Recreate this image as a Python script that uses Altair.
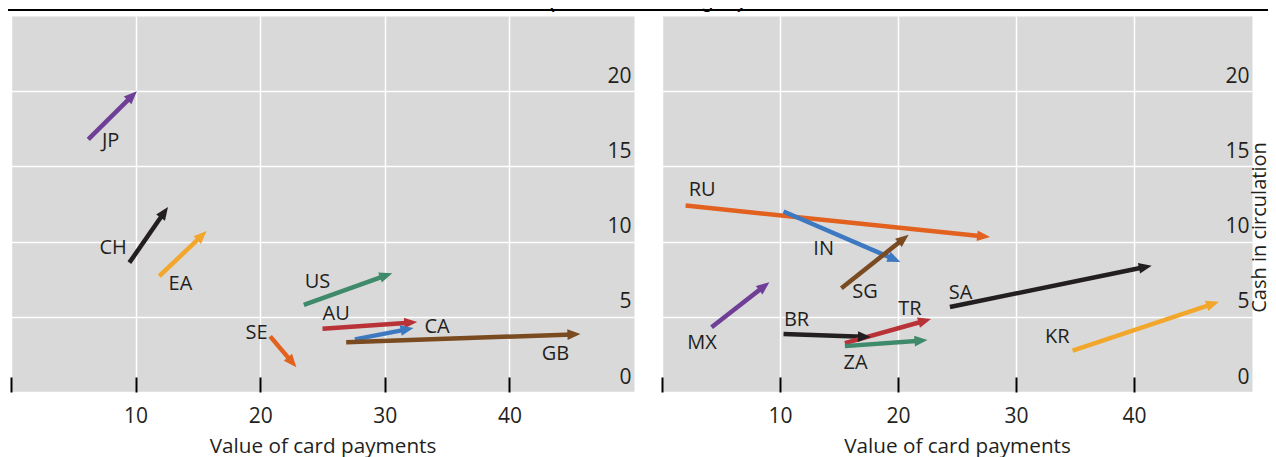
import math
import altair as alt
import pandas as pd

# ---------------- data ----------------
# Left panel: advanced economies
left_country = ["JP", "CH", "EA", "US", "AU", "CA", "GB", "SE"]
left_x_start = [6.2, 9.5, 11.9, 23.5, 25.0, 27.6, 26.9, 20.8]
left_y_start = [16.8, 8.6, 7.7, 5.8, 4.2, 3.5, 3.3, 3.7]
left_x_end = [10.1, 12.6, 15.7, 30.6, 32.6, 32.3, 45.7, 22.9]
left_y_end = [20.0, 12.3, 10.7, 7.9, 4.65, 4.25, 3.85, 1.65]
left_label_x = [8.0, 8.2, 13.6, 24.6, 26.1, 34.2, 43.7, 19.7]
left_label_y = [16.7, 9.6, 7.2, 7.3, 5.2, 4.3, 2.5, 3.9]

# Right panel: emerging market economies
right_country = ["RU", "IN", "SG", "MX", "BR", "TR", "ZA", "SA", "KR"]
right_x_start = [2.0, 10.3, 15.2, 4.2, 10.3, 15.5, 15.5, 24.4, 34.8]
right_y_start = [12.4, 12.0, 6.9, 4.3, 3.85, 3.25, 3.05, 5.65, 2.75]
right_x_end = [27.8, 20.2, 20.9, 9.1, 17.7, 22.8, 22.5, 41.5, 47.2]
right_y_end = [10.3, 8.65, 10.45, 7.3, 3.65, 4.85, 3.45, 8.4, 6.0]
right_label_x = [3.4, 13.7, 17.2, 3.4, 11.4, 21.0, 16.4, 25.3, 33.5]
right_label_y = [13.4, 9.5, 6.65, 3.25, 4.8, 5.5, 1.95, 6.6, 3.65]

PURPLE, BLACK, YELLOW, GREEN = "#6F3E96", "#231F20", "#F2A62B", "#3F8A6B"
RED, BLUE, BROWN, ORANGE = "#B93238", "#3D79C1", "#7A4A21", "#E2611F"
left_color = [PURPLE, BLACK, YELLOW, GREEN, RED, BLUE, BROWN, ORANGE]
right_color = [ORANGE, BLUE, BROWN, PURPLE, BLACK, RED, GREEN, BLACK, YELLOW]

x_ticks = [0, 10, 20, 30, 40]
y_ticks = [0, 5, 10, 15, 20]
x_title = "Value of card payments"
y_title = "Cash in circulation"
header = "(2007–10 changes)"

# ---------------- style ----------------
FONT = "Open Sans"
TXT = "#231F20"
H = 376
LEFT_W, RIGHT_W = 623, 590
XDOM, YDOM = [0, 50], [0, 25]
HEAD_BACK = 8  # px the shaft stops before the tip
ARROW = "M0,0L0.62,1.5L-0.62,1.5Z"


def build_df(country, xs, ys, xe, ye, lx, ly, colors, width):
    pxx = width / (XDOM[1] - XDOM[0])
    pxy = H / (YDOM[1] - YDOM[0])
    rows = []
    for c, a, b, e, f, g, h, col in zip(country, xs, ys, xe, ye, lx, ly, colors):
        dx = (e - a) * pxx
        dy = (f - b) * pxy
        L = math.hypot(dx, dy)
        ux, uy = dx / L, dy / L
        ang = math.degrees(math.atan2(dx, dy)) % 360
        rows.append(dict(country=c, xs=a, ys=b, xe=e, ye=f,
                         sx2=e - ux * HEAD_BACK / pxx, sy2=f - uy * HEAD_BACK / pxy,
                         lx=g, ly=h, color=col, angle=ang))
    return pd.DataFrame(rows)


def x_axis():
    return alt.Axis(values=x_ticks, labelExpr="datum.value == 0 ? '' : datum.label",
                    orient="bottom", offset=-15, tickSize=15, tickWidth=2,
                    tickColor="black", domain=False, grid=True, gridColor="white",
                    gridWidth=1.5,
                    labelPadding=30, labelBaseline="alphabetic", labelFlush=False,
                    labelFontSize=21,
                    title=x_title, titleY=75, titleBaseline="alphabetic",
                    titleFontSize=20.7)


def y_axis(with_title):
    kw = dict(values=y_ticks, orient="right", ticks=False, domain=False, grid=True,
              gridColor="white", gridWidth=1.5,
              labelAlign="right", labelPadding=-3, labelBaseline="alphabetic",
              labelOffset=-9, labelFontSize=21)
    if with_title:
        kw.update(title=y_title, titleAngle=270, titleX=7, titleY=211,
                  titleAlign="center", titleBaseline="middle", titleFontSize=20)
    else:
        kw.update(title="")
    return alt.Axis(**kw)


def panel(df, width, with_title):
    xs = alt.Scale(domain=XDOM, nice=False, zero=False)
    ys = alt.Scale(domain=YDOM, nice=False, zero=False)
    xa = x_axis()
    ya = y_axis(with_title)
    base = alt.Chart(df)
    shafts = base.mark_rule(strokeWidth=4.5).encode(
        x=alt.X("xs:Q", scale=xs, axis=xa),
        y=alt.Y("ys:Q", scale=ys, axis=ya),
        x2="sx2:Q", y2="sy2:Q",
        color=alt.Color("color:N", scale=None),
    )
    heads = base.mark_point(shape=ARROW, filled=True, size=300, opacity=1).encode(
        x=alt.X("xe:Q", scale=xs, axis=xa),
        y=alt.Y("ye:Q", scale=ys, axis=ya),
        angle=alt.Angle("angle:Q", scale=None),
        color=alt.Color("color:N", scale=None),
    )
    labels = base.mark_text(font=FONT, fontSize=20, color=TXT, align="center",
                            baseline="middle").encode(
        x=alt.X("lx:Q", scale=xs, axis=xa),
        y=alt.Y("ly:Q", scale=ys, axis=ya),
        text="country:N",
    )
    return [shafts, heads, labels]


one = alt.Chart(pd.DataFrame({"k": [0]}))
header_rule = one.mark_rule(color="black", strokeWidth=2).encode(
    x=alt.value(-3), x2=alt.value(1265), y=alt.value(-6))
header_text = one.mark_text(font="Liberation Sans", fontStyle="italic", fontSize=23,
                            color="black", align="center", baseline="alphabetic").encode(
    x=alt.value(637), y=alt.value(-9.5), text=alt.value(header))
marker_tl = one.mark_rule(opacity=0).encode(
    x=alt.value(-20), x2=alt.value(-10), y=alt.value(-40))
marker_br = one.mark_rule(opacity=0).encode(
    x=alt.value(620), x2=alt.value(630), y=alt.value(H + 80))

left_df = build_df(left_country, left_x_start, left_y_start, left_x_end, left_y_end,
                   left_label_x, left_label_y, left_color, LEFT_W)
right_df = build_df(right_country, right_x_start, right_y_start, right_x_end, right_y_end,
                    right_label_x, right_label_y, right_color, RIGHT_W)

left = alt.layer(*panel(left_df, LEFT_W, False), header_rule, header_text, marker_tl
                 ).properties(width=LEFT_W, height=H)
right = alt.layer(*panel(right_df, RIGHT_W, True), marker_br
                  ).properties(width=RIGHT_W, height=H)

chart = alt.hconcat(left, right, spacing=28, bounds="flush").properties(
    padding={"left": -17, "top": -32, "right": -24, "bottom": -15}
).configure_view(fill="#D9D9D9", strokeOpacity=0).configure_axis(
    labelFont=FONT, titleFont=FONT, labelColor=TXT, titleColor=TXT,
    labelFontSize=20, titleFontSize=20, titleFontWeight="normal"
)

chart.save("out.html", embed_options={"renderer": "svg", "actions": False})
